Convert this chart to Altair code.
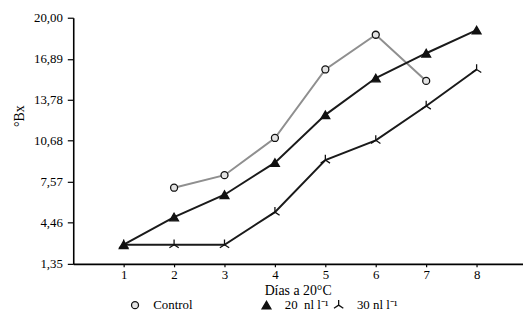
import altair as alt
import pandas as pd

days = [1, 2, 3, 4, 5, 6, 7, 8]
control = [None, 7.12, 8.07, 10.89, 16.08, 18.71, 15.21, None]
nl20 = [2.80, 4.90, 6.59, 9.02, 12.64, 15.43, 17.31, 19.06]
nl30 = [2.80, 2.80, 2.80, 5.27, 9.22, 10.71, 13.31, 16.08]
series = ["Control", "20\u00a0\u00a0nl l⁻¹", "30\u00a0nl l⁻¹"]
y_ticks = [1.35, 4.46, 7.57, 10.68, 13.78, 16.89, 20.00]

pad = "\u00a0" * 20 + "\u200b"
legend_names = [series[0] + pad, series[1], series[2]]

rows = []
for name, vals in zip(legend_names, [control, nl20, nl30]):
    for d, v in zip(days, vals):
        if v is not None:
            rows.append({"dia": d, "bx": v, "serie": name})
df = pd.DataFrame(rows)

FONT = "Liberation Serif"
tripod = "M0,0L0,-1M0,0L-0.9,0.6M0,0L0.9,0.6"

x = alt.X("dia:Q", scale=alt.Scale(domain=[0, 8.92], nice=False, zero=False),
          axis=alt.Axis(values=days, format="d", title="Días a 20°C",
                        titleX=227, titleY=20, titleBaseline="top",
                        tickSize=3, labelPadding=2))
y = alt.Y("bx:Q", scale=alt.Scale(domain=[1.35, 20.0], nice=False, zero=False),
          axis=alt.Axis(values=y_ticks, title="°Bx",
                        labelExpr="replace(format(datum.value, '.2f'), '.', ',')",
                        titleX=-54, titleY=99, titleAngle=-90,
                        titleAlign="center", titleBaseline="middle",
                        tickSize=6, labelPadding=5))

base = alt.Chart(df)
line_ctrl = base.transform_filter(alt.datum.serie == legend_names[0]).mark_line(
    strokeWidth=2, color="#8f8f8f").encode(x=x, y=y)
line_trt = base.transform_filter(alt.datum.serie != legend_names[0]).mark_line(
    strokeWidth=2, color="#1a1a1a").encode(x=x, y=y, detail="serie:N")

leg = alt.Legend(title=None, orient="none", legendX=56, legendY=284,
                 direction="horizontal", columnPadding=2,
                 labelFont=FONT, labelFontSize=13, labelColor="black",
                 labelOffset=12, symbolStrokeWidth=1.3)

points = base.mark_point(filled=False, strokeWidth=1.3, opacity=1).encode(
    x=x, y=y,
    shape=alt.Shape("serie:N", scale=alt.Scale(domain=legend_names, range=["circle", "triangle-up", tripod]), legend=leg),
    fill=alt.Fill("serie:N", scale=alt.Scale(domain=legend_names, range=["#e3e3e3", "#111111", "transparent"]), legend=leg),
    stroke=alt.Stroke("serie:N", scale=alt.Scale(domain=legend_names, range=["#111111", "#111111", "#111111"]), legend=leg),
    size=alt.Size("serie:N", scale=alt.Scale(domain=legend_names, range=[50, 110, 80]), legend=leg),
)

chart = alt.layer(line_ctrl, line_trt, points).properties(
    width=455, height=249,
    padding={"left": 66, "top": 8, "right": 0, "bottom": 60},
    autosize=alt.AutoSizeParams(type="none"),
).configure_view(stroke=None).configure_axis(
    grid=False, domainColor="black", domainWidth=1.6, tickColor="black", tickWidth=1.2,
    labelFont=FONT, labelFontSize=13, labelColor="black",
    titleFont=FONT, titleFontSize=14, titleFontWeight="normal", titleColor="black",
)

chart.save("out.html", embed_options={"renderer": "svg", "actions": False})
